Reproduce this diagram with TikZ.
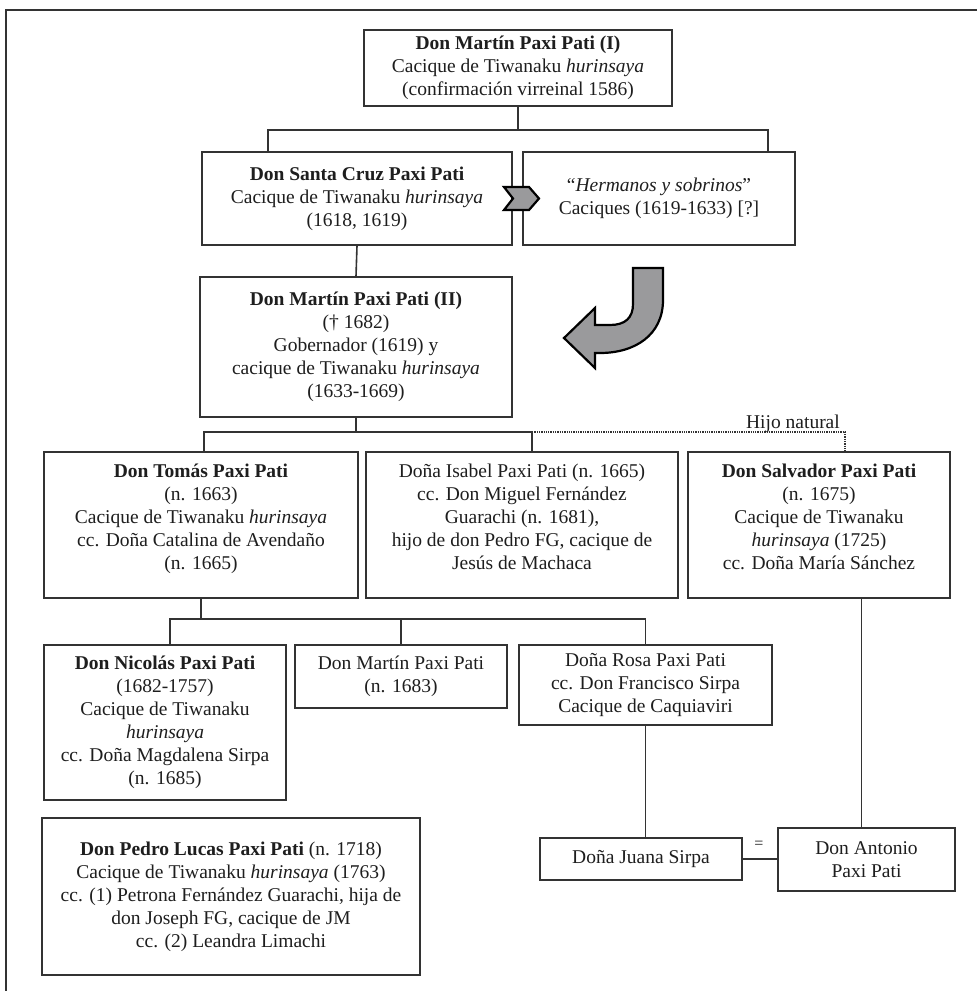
\documentclass[tikz,border=0pt]{standalone}
\usepackage{fontspec}
\setmainfont{Liberation Serif}
\definecolor{linec}{HTML}{333333}
\definecolor{textc}{HTML}{1E1E1E}
\definecolor{arrowfill}{HTML}{9A9A9C}
\begin{document}
\begin{tikzpicture}[x=1pt,y=-1pt,
  box/.style={draw=linec, line width=1.6pt, align=center, inner sep=0pt, text=textc,
    font=\fontsize{19.5}{23}\selectfont, anchor=center},
  conn/.style={draw=linec, line width=1.6pt},
  natconn/.style={draw=linec, line width=1.3pt, densely dotted},
  lab/.style={text=textc, font=\fontsize{19.5}{23}\selectfont, inner sep=0pt},
  bigarrow/.style={draw=black, line width=2.2pt, fill=arrowfill, line join=miter}
]
\useasboundingbox (0,0) rectangle (977,991);
\clip (0,0) rectangle (977,991);
\fill[white] (0,0) rectangle (977,991);
% outer frame (cut by the page at right and bottom)
\draw[linec, line width=1.5pt] (6,1010) -- (6,10) -- (1000,10);

% boxes
\node[box, minimum width=308pt, minimum height=76pt] (A) at (518,68)
  {\textbf{Don Martín Paxi Pati (I)}\\ Cacique de Tiwanaku \textit{hurinsaya}\\ (confirmación virreinal 1586)};
\node[box, minimum width=310pt, minimum height=93pt] (SC) at (357,198.5)
  {\textbf{Don Santa Cruz Paxi Pati}\\ Cacique de Tiwanaku \textit{hurinsaya}\\ (1618, 1619)};
\node[box, minimum width=272pt, minimum height=93pt] (H) at (659,198.5)
  {“\textit{Hermanos y sobrinos}”\\ Caciques (1619-1633) [?]};
\node[box, minimum width=312pt, minimum height=140pt] (M2) at (356,347)
  {\textbf{Don Martín Paxi Pati (II)}\\ († 1682)\\ Gobernador (1619) y\\ cacique de Tiwanaku \textit{hurinsaya}\\ (1633-1669)};
\node[box, minimum width=314pt, minimum height=146pt] (T) at (201,525)
  {\textbf{Don Tomás Paxi Pati}\\ (n. 1663)\\ Cacique de Tiwanaku \textit{hurinsaya}\\ cc. Doña Catalina de Avendaño\\ (n. 1665)\\[-6pt]\mbox{}};
\node[box, minimum width=312pt, minimum height=146pt] (I) at (522,525)
  {Doña Isabel Paxi Pati (n. 1665)\\ cc. Don Miguel Fernández\\ Guarachi (n. 1681),\\ hijo de don Pedro FG, cacique de\\ Jesús de Machaca\\[-6pt]\mbox{}};
\node[box, minimum width=262pt, minimum height=146pt] (Sv) at (819,525)
  {\textbf{Don Salvador Paxi Pati}\\ (n. 1675)\\ Cacique de Tiwanaku\\ \textit{hurinsaya} (1725)\\ cc. Doña María Sánchez\\[-6pt]\mbox{}};
\node[box, minimum width=242pt, minimum height=155pt] (N) at (165,722.5)
  {\textbf{Don Nicolás Paxi Pati}\\ (1682-1757)\\ Cacique de Tiwanaku\\ \textit{hurinsaya}\\ cc. Doña Magdalena Sirpa\\ (n. 1685)};
\node[box, minimum width=212pt, minimum height=63pt] (M3) at (401,676.5)
  {Don Martín Paxi Pati\\ (n. 1683)};
\node[box, minimum width=253pt, minimum height=80pt] (R) at (645.5,685)
  {Doña Rosa Paxi Pati\\ cc. Don Francisco Sirpa\\ Cacique de Caquiaviri};
\node[box, minimum width=378pt, minimum height=157pt] (P) at (231,896.5)
  {\textbf{Don Pedro Lucas Paxi Pati} (n. 1718)\\ Cacique de Tiwanaku \textit{hurinsaya} (1763)\\ cc. (1) Petrona Fernández Guarachi, hija de\\ don Joseph FG, cacique de JM\\ cc. (2) Leandra Limachi};
\node[box, minimum width=202pt, minimum height=42pt] (J) at (641,859)
  {Doña Juana Sirpa};
\node[box, minimum width=177pt, minimum height=63pt] (An) at (866.5,859.5)
  {Don Antonio\\ Paxi Pati};

% junction levels
\coordinate (yA) at (0,130);
\coordinate (yB) at (0,432);
\coordinate (yC) at (0,619);
\coordinate (dl) at (268,130);
\coordinate (dr) at (768,130);
\coordinate (iso) at (532,432);
\coordinate (nat) at (845,432);

% connectors
\draw[conn] (A.south) -- (A.south |- yA);
\draw[conn] (dl |- SC.north) -- (dl) -- (dr) -- (dr |- H.north);
\draw[conn] (SC.south) -- (M2.north);
\draw[conn] (M2.south) -- (M2.south |- yB);
\draw[conn] ([xshift=3pt]T.north) |- (iso) -- (iso |- I.north);
\draw[natconn] (iso) -- (nat) -- (nat |- Sv.north);
\node[lab, anchor=base east] (hn) at (840,428) {Hijo natural};
\draw[conn] (T.south) -- (T.south |- yC);
\draw[conn] ([xshift=5pt]N.north) |- (R.north |- yC) -- (R.north);
\draw[conn] (M3.north) -- (M3.north |- yC);
\draw[conn] (R.south) -- (R.south |- J.north);
\draw[conn] ([xshift=-5pt]An.north) -- ([xshift=-5pt]An.north |- Sv.south);
\draw[conn] (J.east) -- (J.east -| An.west);
\node[lab, font=\fontsize{16}{18}\selectfont] (eq) at (759,845) {=};

% chevron between Santa Cruz and hermanos
\draw[bigarrow] (504,187) -- (529,187) -- (539,198.5) -- (529,210) -- (504,210) -- (513,198.5) -- cycle;

% curved arrow
\draw[bigarrow] (663,268) -- (663,300) .. controls (663,335) and (635,353) .. (600,353)
  -- (595,353) -- (595,368) -- (564,338) -- (595,308) -- (595,325) -- (610,325)
  .. controls (625,325) and (633,318) .. (633,304) -- (633,268) -- cycle;
\end{tikzpicture}
\end{document}
